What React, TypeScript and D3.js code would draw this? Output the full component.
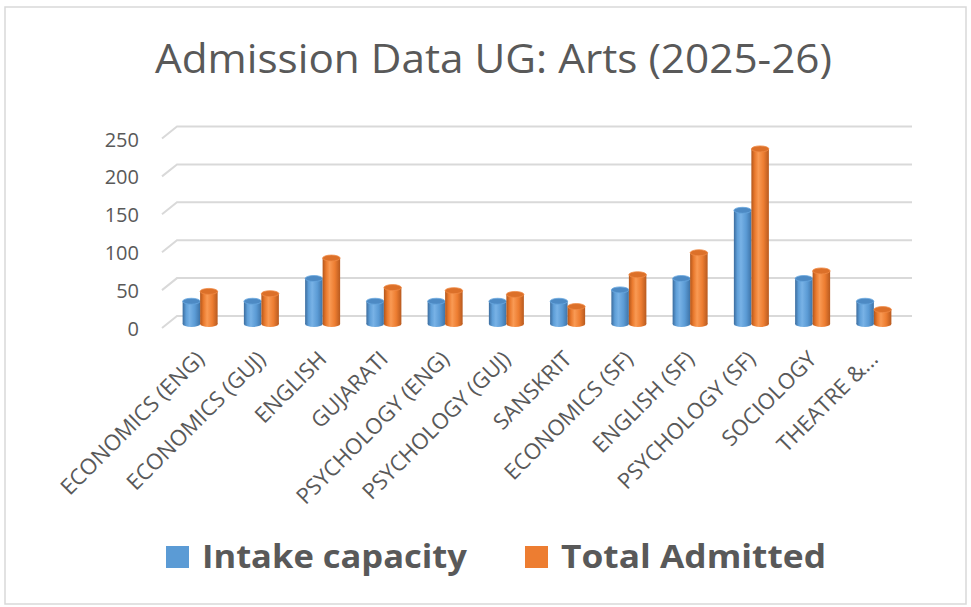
import React, { useEffect, useRef } from 'react';
import * as d3 from 'd3';

const categories = [
  'ECONOMICS (ENG)',
  'ECONOMICS (GUJ)',
  'ENGLISH',
  'GUJARATI',
  'PSYCHOLOGY (ENG)',
  'PSYCHOLOGY (GUJ)',
  'SANSKRIT',
  'ECONOMICS (SF)',
  'ENGLISH (SF)',
  'PSYCHOLOGY (SF)',
  'SOCIOLOGY',
  'THEATRE &...',
];
const seriesNames = ['Intake capacity', 'Total Admitted'];
const intakeCapacity = [30, 30, 60, 30, 30, 30, 30, 45, 60, 150, 60, 30];
const totalAdmitted = [43, 40, 87, 48, 44, 39, 23, 65, 94, 231, 70, 19];
const yTicks = [0, 50, 100, 150, 200, 250];

const W = 971;
const H = 607;
const FONT = "'Open Sans', 'Noto Sans', sans-serif";
const TEXT_COLOR = '#595959';

const App: React.FC = () => {
  const svgRef = useRef<SVGSVGElement>(null);

  useEffect(() => {
    if (!svgRef.current) return;
    const root = d3.select(svgRef.current);
    root.selectAll('*').remove();
    root.attr('width', W).attr('height', H);

    // 3D-ish offsets: front edge of the floor vs back wall
    const depthX = 15;
    const depthY = 12;

    const plotLeft = 177;
    const plotRight = 912;

    const y = d3.scaleLinear().domain([0, 250]).range([316, 126.5]);
    const x0 = d3.scaleBand<string>().domain(categories).range([plotLeft, plotRight]);
    const groupW = 35;

    const defs = root.append('defs');
    const grads = [
      { id: 'gBlue', stops: ['#3b6c9e', '#5f9fd8', '#78b2e6', '#5b9bd5', '#3f74a8'] },
      { id: 'gOrange', stops: ['#b3561b', '#ea7a2e', '#f99a54', '#ed7d31', '#b85a1f'] },
    ];
    grads.forEach((g) => {
      const lg = defs.append('linearGradient').attr('id', g.id).attr('x1', '0%').attr('x2', '100%');
      const offs = [0, 0.2, 0.4, 0.7, 1];
      g.stops.forEach((c, i) => lg.append('stop').attr('offset', offs[i]).attr('stop-color', c));
    });

    // border
    root.append('rect')
      .attr('x', 5).attr('y', 7).attr('width', 961).attr('height', 597)
      .attr('fill', '#fff').attr('stroke', '#d9d9d9').attr('stroke-width', 1.5);

    // title
    root.append('text')
      .attr('x', 155).attr('y', 73)
      .attr('textLength', 677).attr('lengthAdjust', 'spacingAndGlyphs')
      .attr('font-family', FONT).attr('font-size', 41)
      .attr('fill', TEXT_COLOR)
      .text('Admission Data UG: Arts (2025-26)');

    // gridlines
    const grid = root.append('g');
    yTicks.forEach((t) => {
      const yy = y(t);
      grid.append('path')
        .attr('d', `M${plotLeft - depthX},${yy + depthY}L${plotLeft},${yy}L${plotRight},${yy}`)
        .attr('fill', 'none').attr('stroke', '#d9d9d9').attr('stroke-width', 2);
      grid.append('text')
        .attr('x', 139).attr('y', yy + depthY + 1)
        .attr('dy', '0.35em')
        .attr('text-anchor', 'end')
        .attr('font-family', FONT).attr('font-size', 20)
        .attr('fill', TEXT_COLOR)
        .text(t);
    });

    // bars (cylinders) at mid depth
    const midX = -depthX / 2;
    const midY = depthY / 2;
    const x1 = d3.scaleBand<string>().domain(seriesNames).range([-groupW / 2, groupW / 2]);
    const seriesData = [intakeCapacity, totalAdmitted];
    const fills = ['url(#gBlue)', 'url(#gOrange)'];
    const tops = ['#4d8ac4', '#dc7029'];
    const ry = 3;

    const bars = root.append('g');
    categories.forEach((cat, i) => {
      const cx = (x0(cat) as number) + x0.bandwidth() / 2 + midX;
      seriesNames.forEach((s, si) => {
        const v = seriesData[si][i];
        const bx = cx + (x1(s) as number);
        const bw = x1.bandwidth();
        const yb = y(0) + midY + 2;
        const yt = y(v) + midY + 2;
        const g = bars.append('g');
        g.append('ellipse')
          .attr('cx', bx + bw / 2).attr('cy', yb)
          .attr('rx', bw / 2).attr('ry', ry)
          .attr('fill', fills[si]);
        g.append('rect')
          .attr('x', bx).attr('y', yt)
          .attr('width', bw).attr('height', Math.max(0, yb - yt))
          .attr('fill', fills[si]);
        g.append('ellipse')
          .attr('cx', bx + bw / 2).attr('cy', yt)
          .attr('rx', bw / 2).attr('ry', ry)
          .attr('fill', tops[si])
          .attr('stroke', si === 0 ? '#6aa8e0' : '#f08a45')
          .attr('stroke-width', 0.8);
      });

      // category label
      root.append('text')
        .attr('transform', `translate(${cx},${355}) rotate(-45)`)
        .attr('text-anchor', 'end')
        .attr('dy', '0.35em')
        .attr('font-family', FONT).attr('font-size', 22)
        .attr('fill', TEXT_COLOR)
        .text(cat);
    });

    // legend
    const legendItems = [
      { name: seriesNames[0], color: '#5b9bd5', x: 166 },
      { name: seriesNames[1], color: '#ed7d31', x: 525 },
    ];
    legendItems.forEach((it) => {
      root.append('rect')
        .attr('x', it.x).attr('y', 546).attr('width', 23).attr('height', 22)
        .attr('fill', it.color);
      root.append('text')
        .attr('x', it.x + 36).attr('y', 568)
        .attr('textLength', 265).attr('lengthAdjust', 'spacingAndGlyphs')
        .attr('font-family', FONT).attr('font-size', 32).attr('font-weight', 700)
        .attr('fill', TEXT_COLOR)
        .text(it.name);
    });
  }, []);

  return (
    <div style={{ position: 'absolute', left: 0, top: 0 }}>
      <svg ref={svgRef} style={{ display: 'block' }}></svg>
    </div>
  );
};

export default App;
